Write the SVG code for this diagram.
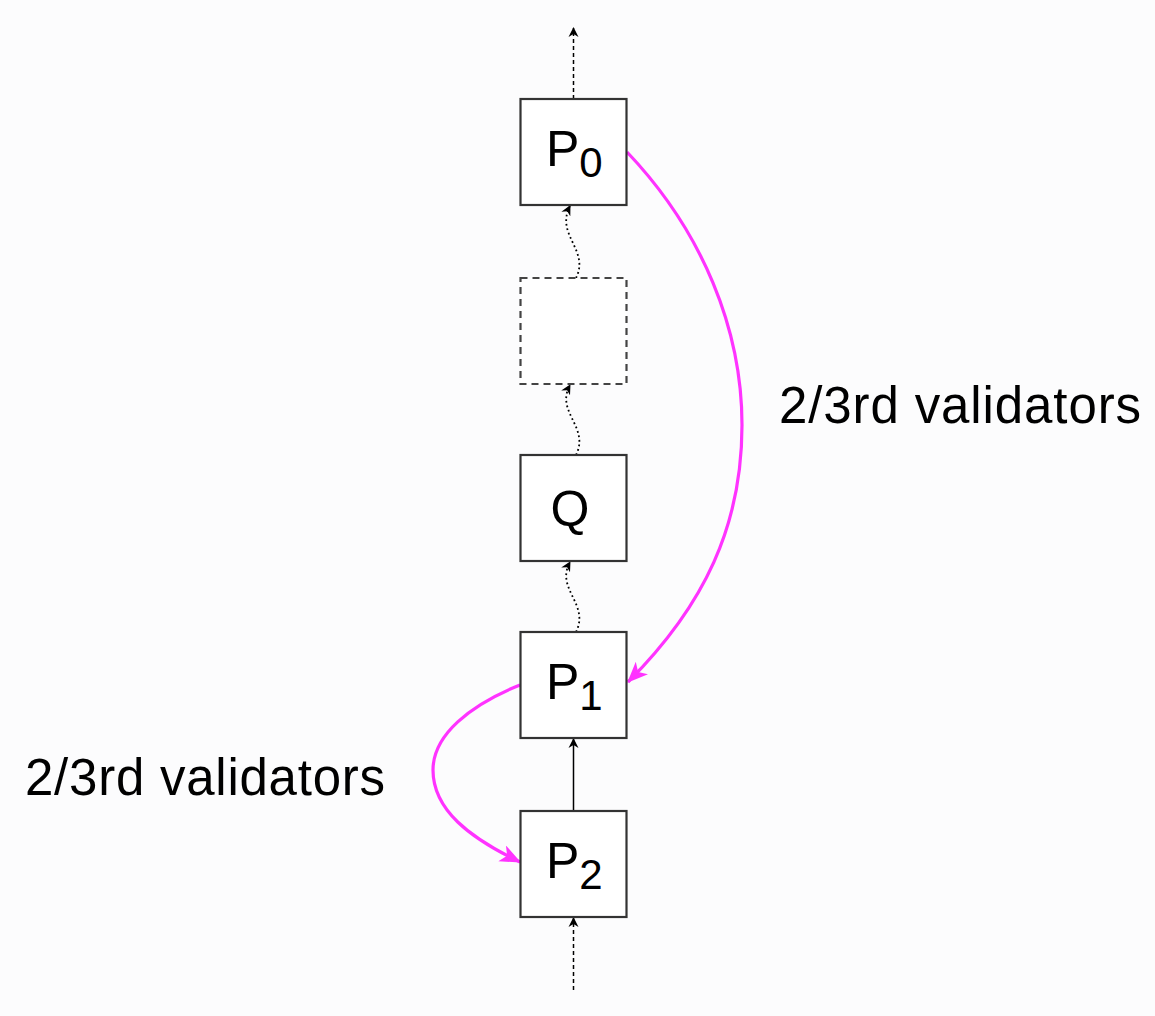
<svg xmlns="http://www.w3.org/2000/svg" width="1155" height="1016" viewBox="0 0 1155 1016">
<style>
.box{fill:#ffffff;stroke:#333333;stroke-width:2.2}
.dbox{fill:#ffffff;stroke:#444444;stroke-width:2.2;stroke-dasharray:7 5}
.lbl{font-family:"Liberation Sans",Arial,sans-serif;font-size:50px;fill:#000000}
.sub{font-size:42px}
.note{font-family:"Liberation Sans",Arial,sans-serif;font-size:51px;fill:#000000}
.blk{fill:none;stroke:#000000;stroke-width:1.5}
.dash{stroke-dasharray:4 3}
.dot{stroke-dasharray:1.8 2.8;stroke-width:1.8}
.mag{fill:none;stroke:#ff33ff;stroke-width:3.2}
</style>
<defs>
<marker id="ah" markerUnits="userSpaceOnUse" markerWidth="12" markerHeight="12" refX="9" refY="5" orient="auto" viewBox="0 0 12 10">
<path d="M0,0 L10,5 L0,10 L3,5 Z" fill="#000000"/>
</marker>
<marker id="mh" markerUnits="userSpaceOnUse" markerWidth="22" markerHeight="18" refX="18" refY="8" orient="auto" viewBox="0 0 20 16">
<path d="M0,0 L19,8 L0,16 L5,8 Z" fill="#ff33ff"/>
</marker>
</defs>
<rect width="1155" height="1016" fill="#fcfcfd"/>
<g id="connectors">
<path class="blk dash" d="M573.5,99 L573.5,28" marker-end="url(#ah)"/>
<path class="blk dot" d="M576,278 C590,250 555,235 570,206" marker-end="url(#ah)"/>
<path class="blk dot" d="M576,455 C590,427 555,412 570,385" marker-end="url(#ah)"/>
<path class="blk dot" d="M576,632 C590,604 555,589 570,562" marker-end="url(#ah)"/>
<path class="blk" d="M573.5,811 L573.5,739" marker-end="url(#ah)"/>
<path class="blk dash" d="M573.5,990 L573.5,918" marker-end="url(#ah)"/>
<path class="mag" d="M627,152 C703,232 742,330 742,425 C742,525 705,605 628,682" marker-end="url(#mh)"/>
<path class="mag" d="M520,685 C470,705 433,735 433,770 C433,810 470,838 520,862" marker-end="url(#mh)"/>
</g>
<g id="P0">
<rect class="box" x="520.5" y="99" width="106" height="106"/>
<text class="lbl" x="546" y="166">P<tspan class="sub" dy="11">0</tspan></text>
</g>
<g id="gap">
<rect class="dbox" x="520.5" y="278" width="106" height="106"/>
</g>
<g id="Q">
<rect class="box" x="520.5" y="455" width="106" height="106"/>
<text class="lbl" x="570" y="526" text-anchor="middle">Q</text>
</g>
<g id="P1">
<rect class="box" x="520.5" y="632" width="106" height="106"/>
<text class="lbl" x="546" y="699">P<tspan class="sub" dy="11">1</tspan></text>
</g>
<g id="P2">
<rect class="box" x="520.5" y="811" width="106" height="106"/>
<text class="lbl" x="546" y="878">P<tspan class="sub" dy="11">2</tspan></text>
</g>
<g id="label-right">
<text class="note" x="779" y="423" textLength="362" lengthAdjust="spacing">2/3rd validators</text>
</g>
<g id="label-left">
<text class="note" x="25" y="795" textLength="360" lengthAdjust="spacing">2/3rd validators</text>
</g>
</svg>
